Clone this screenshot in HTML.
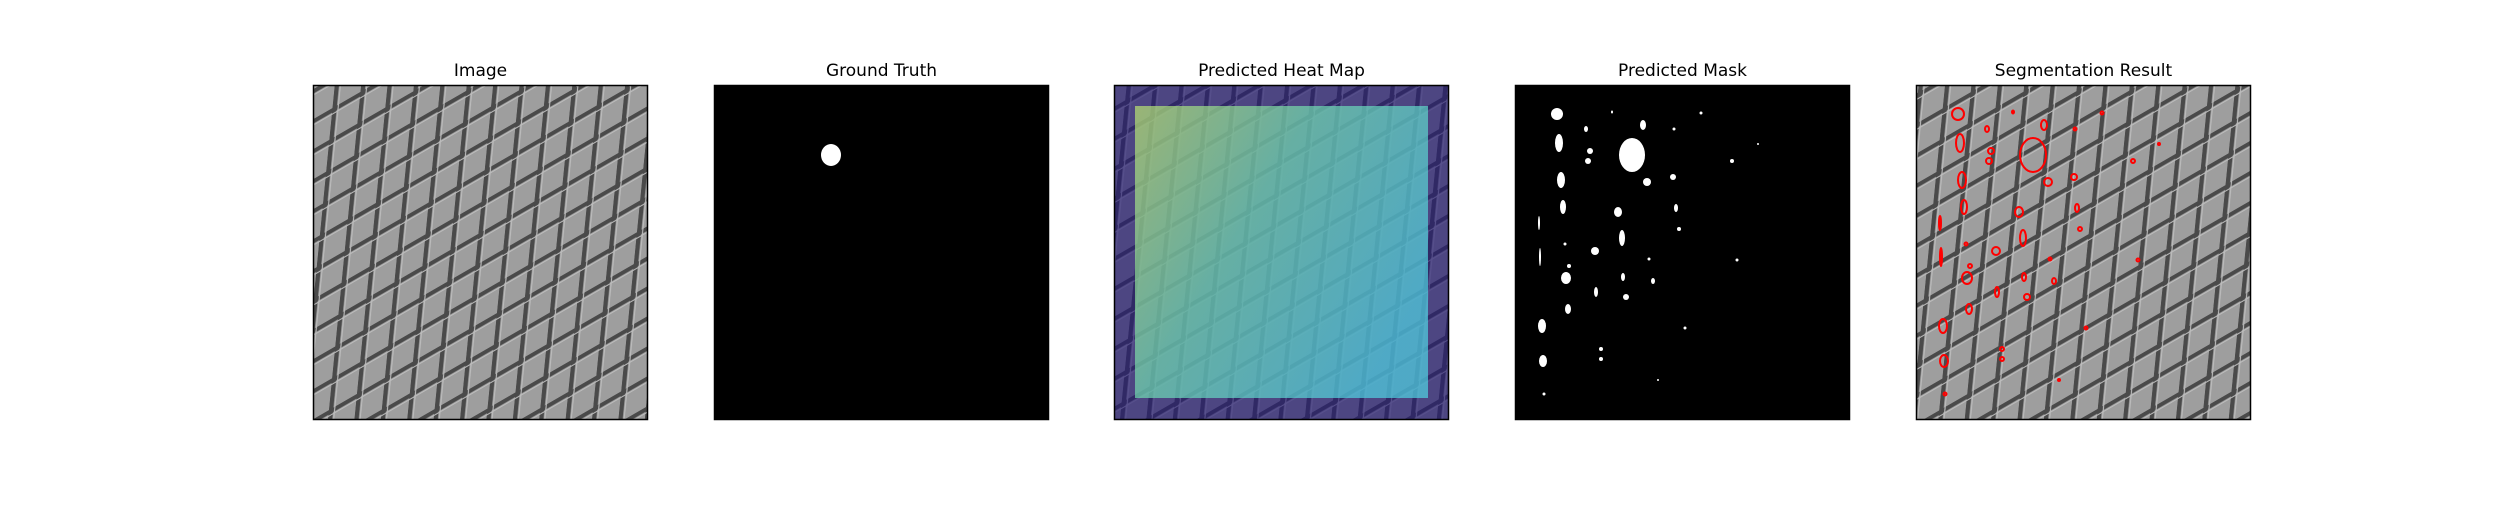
<!DOCTYPE html>
<html><head><meta charset="utf-8"><style>
body{margin:0;background:#fff;width:2500px;height:500px;overflow:hidden}
svg text{font-family:"DejaVu Sans","Liberation Sans",sans-serif;font-size:17px;fill:#000}
</style></head><body>
<svg id="fig" width="2500" height="500">
<defs>
<pattern id="mesh" width="28" height="30" patternUnits="userSpaceOnUse" patternTransform="skewY(-30) skewX(-6)">
<rect width="28" height="30" fill="#9e9e9e"/>
<line x1="2" y1="0" x2="2" y2="30" stroke="#4a4a4a" stroke-width="5"/>
<line x1="0" y1="2" x2="28" y2="2" stroke="#4a4a4a" stroke-width="5"/>
<line x1="6" y1="0" x2="6" y2="30" stroke="#bdbdbd" stroke-width="1.2"/>
<line x1="0" y1="6" x2="28" y2="6" stroke="#bdbdbd" stroke-width="1.2"/>
</pattern>
<linearGradient id="heat" x1="0" y1="0" x2="1" y2="0.6">
<stop offset="0" stop-color="#b8e070"/><stop offset="0.45" stop-color="#70d8b0"/><stop offset="1" stop-color="#50d0e0"/>
</linearGradient>
</defs>
</svg>
<script>
const titles=["Image","Ground Truth","Predicted Heat Map","Predicted Mask","Segmentation Result"];
const panelX=[313,714,1114,1515,1916];
const blobX=[42,44,46,48,24,25,51,27,28,117,132,103,107,80,81,111,53,75,73,158,161,164,138,108,128,71,217,86,86,186,159,243,222,170,143,29,50,54,134,97];
const blobY=[29,58,95,122,138,172,193,241,276,70,97,127,153,166,207,212,224,66,76,92,123,144,196,192,40,44,76,274,264,28,44,59,175,243,295,309,159,181,174,27];
const blobRX=[6,4,4,3,1,1,5,4,4,13,4,4,3,4,2,3,3,3,3,3,2,2,2,2,3,2,2,2,2,1.5,1.5,1,1.5,1.5,1,1.5,1.5,2,1.5,1];
const blobRY=[6,9,8,7,7,9,6,7,6,17,4,5,8,4,5,3,5,3,3,3,4,2,3,4,5,3,2,2,2,1.5,1.5,1,1.5,1.5,1,1.5,1.5,2,1.5,1.5];
const gtBlob=[117,70,10,11];
const PY=85,PS=335,NS="http://www.w3.org/2000/svg";
const svg=document.getElementById('fig');
function mk(t,a,p){const e=document.createElementNS(NS,t);for(const k in a)e.setAttribute(k,a[k]);(p||svg).appendChild(e);return e;}
titles.forEach((t,i)=>{
  const x=panelX[i];
  const g=mk('g',{});
  
  
  const tt=mk('text',{x:x+PS/2,y:PY-9,'text-anchor':'middle'},g);tt.textContent=t;
  
  
  const bg=mk('rect',{x:x,y:PY,width:PS,height:PS,fill:(i===1||i===3)?'#000':'url(#mesh)'},g);
  
  
  if(i===1){
    const b=mk('ellipse',{cx:x+gtBlob[0],cy:PY+gtBlob[1],rx:gtBlob[2],ry:gtBlob[3],fill:'#fff'},g);
    
    
  }
  if(i===2){
    const o=mk('rect',{x:x,y:PY,width:PS,height:PS,fill:'rgba(35,25,115,0.66)'},g);
    
    
    const h=mk('rect',{x:x+21,y:PY+21,width:PS-42,height:PS-43,fill:'url(#heat)',opacity:0.72},g);
    
    
  }
  if(i===3||i===4){
    blobX.forEach((bx,j)=>{
      const e=mk('ellipse',{cx:x+bx,cy:PY+blobY[j],rx:blobRX[j],ry:blobRY[j]},g);
      if(i===3)e.setAttribute('fill','#fff');else{e.setAttribute('fill','none');e.setAttribute('stroke','#f00');e.setAttribute('stroke-width','2');}
      
      
    });
  }
  const f=mk('rect',{x:x+0.5,y:PY+0.5,width:PS-1,height:PS-1,fill:'none',stroke:'#000','stroke-width':1.5},g);
  
  
});
</script>
</body></html>
